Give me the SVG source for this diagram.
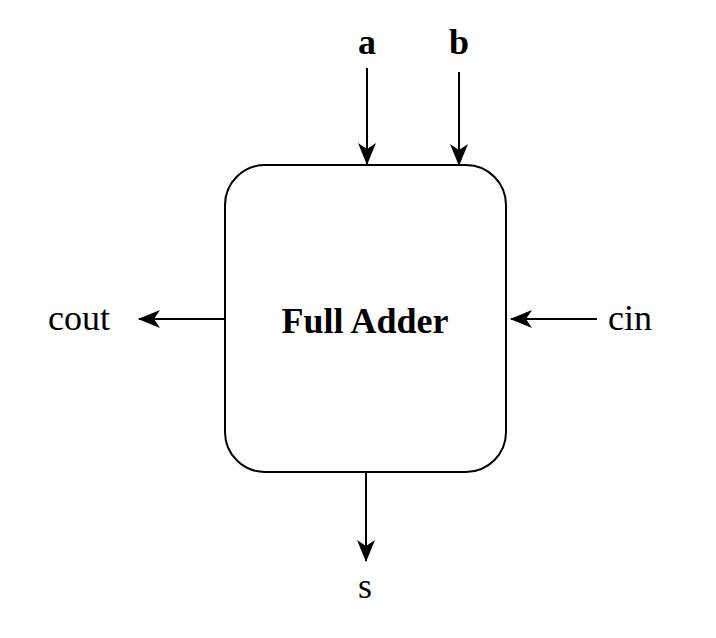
<svg xmlns="http://www.w3.org/2000/svg" width="716" height="638" viewBox="0 0 716 638">
<style>
.lbl{font-family:"Liberation Serif","Times New Roman",serif;font-size:36px;fill:#000}
.b{font-weight:bold}
.ln{stroke:#000;stroke-width:2;fill:none}
</style>
<defs>
<marker id="ah" markerWidth="22" markerHeight="20" refX="21" refY="10" orient="auto" markerUnits="userSpaceOnUse">
<path d="M0,1 L22,10 L0,19 L6,10 Z" fill="#000"/>
</marker>
</defs>
<rect width="716" height="638" fill="#fff"/>
<g id="adder">
<rect x="225" y="165" width="281" height="307" rx="40" ry="40" fill="#fff" stroke="#000" stroke-width="2"/>
<text class="lbl b" x="365" y="333" text-anchor="middle">Full Adder</text>
</g>
<g id="connectors">
<line class="ln" x1="367" y1="68" x2="367" y2="164" marker-end="url(#ah)"/>
<line class="ln" x1="459" y1="72" x2="459" y2="165" marker-end="url(#ah)"/>
<line class="ln" x1="225" y1="319" x2="139" y2="319" marker-end="url(#ah)"/>
<line class="ln" x1="597" y1="319" x2="511" y2="319" marker-end="url(#ah)"/>
<line class="ln" x1="366" y1="472" x2="366" y2="561" marker-end="url(#ah)"/>
</g>
<g id="label-a"><text class="lbl b" x="367" y="54" text-anchor="middle">a</text></g>
<g id="label-b"><text class="lbl b" x="459" y="54" text-anchor="middle">b</text></g>
<g id="label-cout"><text class="lbl" x="48" y="330">cout</text></g>
<g id="label-cin"><text class="lbl" x="608" y="330">cin</text></g>
<g id="label-s"><text class="lbl" x="365" y="598" text-anchor="middle">s</text></g>
</svg>
